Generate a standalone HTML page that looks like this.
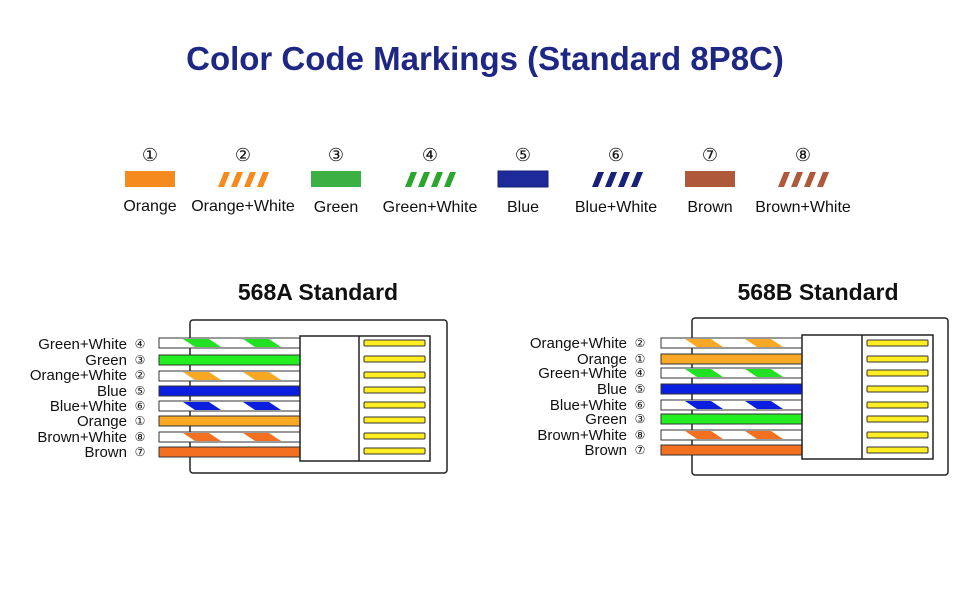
<!DOCTYPE html>
<html><head><meta charset="utf-8"><style>
html,body{margin:0;padding:0;background:#fff}
svg{display:block}
text{font-family:"Liberation Sans",Arial,sans-serif}
</style></head><body>
<svg width="970" height="600" viewBox="0 0 970 600" xmlns="http://www.w3.org/2000/svg">
<rect width="970" height="600" fill="#fff"/>
<text x="485" y="70" text-anchor="middle" font-size="33" font-weight="bold" fill="#1f2784">Color Code Markings (Standard 8P8C)</text>

<g font-size="18" text-anchor="middle" fill="#111">
<text x="150" y="161">①</text><text x="243" y="161">②</text><text x="336" y="161">③</text><text x="430" y="161">④</text>
<text x="523" y="161">⑤</text><text x="616" y="161">⑥</text><text x="710" y="161">⑦</text><text x="803" y="161">⑧</text>
</g>
<rect x="125" y="171" width="50" height="16" fill="#f58a1f"/>
<rect x="311" y="171" width="50" height="16" fill="#3cb043"/>
<rect x="498" y="171" width="50" height="16" fill="#1f2a9a" stroke="#16207a"/>
<rect x="685" y="171" width="50" height="16" fill="#b0583a"/>
<g fill="#f58a1f"><polygon points="224,172 230,172 224,187 218,187"/><polygon points="237,172 243,172 237,187 231,187"/><polygon points="250,172 256,172 250,187 244,187"/><polygon points="263,172 269,172 263,187 257,187"/></g>
<g fill="#2aa52e"><polygon points="411,172 417,172 411,187 405,187"/><polygon points="424,172 430,172 424,187 418,187"/><polygon points="437,172 443,172 437,187 431,187"/><polygon points="450,172 456,172 450,187 444,187"/></g>
<g fill="#18207a"><polygon points="598,172 604,172 598,187 592,187"/><polygon points="611,172 617,172 611,187 605,187"/><polygon points="624,172 630,172 624,187 618,187"/><polygon points="637,172 643,172 637,187 631,187"/></g>
<g fill="#b0583a"><polygon points="784,172 790,172 784,187 778,187"/><polygon points="797,172 803,172 797,187 791,187"/><polygon points="810,172 816,172 810,187 804,187"/><polygon points="823,172 829,172 823,187 817,187"/></g>
<g font-size="16" text-anchor="middle" fill="#111">
<text x="150" y="211">Orange</text><text x="243" y="211">Orange+White</text><text x="336" y="212">Green</text><text x="430" y="212">Green+White</text>
<text x="523" y="212">Blue</text><text x="616" y="212">Blue+White</text><text x="710" y="212">Brown</text><text x="803" y="212">Brown+White</text>
</g>

<text x="318" y="300" text-anchor="middle" font-size="23" font-weight="bold" fill="#111">568A Standard</text>
<text x="818" y="300" text-anchor="middle" font-size="23" font-weight="bold" fill="#111">568B Standard</text>

<!-- Left connector -->
<rect x="190" y="320" width="257" height="153" rx="3" fill="#fff" stroke="#222" stroke-width="1.5"/>
<g stroke="#333" stroke-width="1">
<rect x="159" y="338" width="141" height="10" fill="#fff"/>
<rect x="159" y="355" width="141" height="10" fill="#22ee22"/>
<rect x="159" y="371" width="141" height="10" fill="#fff"/>
<rect x="159" y="386" width="141" height="10" fill="#0a1ee0"/>
<rect x="159" y="401" width="141" height="10" fill="#fff"/>
<rect x="159" y="416" width="141" height="10" fill="#f9a825"/>
<rect x="159" y="432" width="141" height="10" fill="#fff"/>
<rect x="159" y="447" width="141" height="10" fill="#f37021"/>
</g>
<g fill="#22e022"><polygon points="183,339 209,339 221,347 195,347"/><polygon points="243,339 269,339 281,347 255,347"/></g>
<g fill="#f9a825"><polygon points="183,372 209,372 221,380 195,380"/><polygon points="243,372 269,372 281,380 255,380"/></g>
<g fill="#0a1ee0"><polygon points="183,402 209,402 221,410 195,410"/><polygon points="243,402 269,402 281,410 255,410"/></g>
<g fill="#f37021"><polygon points="183,433 209,433 221,441 195,441"/><polygon points="243,433 269,433 281,441 255,441"/></g>
<rect x="300" y="336" width="130" height="125" fill="#fff" stroke="#222" stroke-width="1.5"/>
<line x1="359" y1="336" x2="359" y2="461" stroke="#222" stroke-width="1.5"/>
<g fill="#ffee22" stroke="#333" stroke-width="1">
<rect x="364" y="340" width="61" height="6" rx="1"/><rect x="364" y="356" width="61" height="6" rx="1"/><rect x="364" y="372" width="61" height="6" rx="1"/><rect x="364" y="387" width="61" height="6" rx="1"/>
<rect x="364" y="402" width="61" height="6" rx="1"/><rect x="364" y="417" width="61" height="6" rx="1"/><rect x="364" y="433" width="61" height="6" rx="1"/><rect x="364" y="448" width="61" height="6" rx="1"/>
</g>
<g font-size="15" text-anchor="end" fill="#111">
<text x="127" y="349">Green+White</text><text x="127" y="365">Green</text><text x="127" y="380">Orange+White</text><text x="127" y="396">Blue</text>
<text x="127" y="411">Blue+White</text><text x="127" y="426">Orange</text><text x="127" y="442">Brown+White</text><text x="127" y="457">Brown</text>
</g>
<g font-size="12" text-anchor="middle" fill="#111">
<text x="140" y="348">④</text><text x="140" y="364">③</text><text x="140" y="379">②</text><text x="140" y="395">⑤</text>
<text x="140" y="410">⑥</text><text x="140" y="425">①</text><text x="140" y="441">⑧</text><text x="140" y="456">⑦</text>
</g>

<!-- Right connector -->
<rect x="692" y="318" width="256" height="157" rx="3" fill="#fff" stroke="#222" stroke-width="1.5"/>
<g stroke="#333" stroke-width="1">
<rect x="661" y="338" width="141" height="10" fill="#fff"/>
<rect x="661" y="354" width="141" height="10" fill="#f9a825"/>
<rect x="661" y="368" width="141" height="10" fill="#fff"/>
<rect x="661" y="384" width="141" height="10" fill="#0a1ee0"/>
<rect x="661" y="400" width="141" height="10" fill="#fff"/>
<rect x="661" y="414" width="141" height="10" fill="#22ee22"/>
<rect x="661" y="430" width="141" height="10" fill="#fff"/>
<rect x="661" y="445" width="141" height="10" fill="#f37021"/>
</g>
<g fill="#f9a825"><polygon points="685,339 711,339 723,347 697,347"/><polygon points="745,339 771,339 783,347 757,347"/></g>
<g fill="#22e022"><polygon points="685,369 711,369 723,377 697,377"/><polygon points="745,369 771,369 783,377 757,377"/></g>
<g fill="#0a1ee0"><polygon points="685,401 711,401 723,409 697,409"/><polygon points="745,401 771,401 783,409 757,409"/></g>
<g fill="#f37021"><polygon points="685,431 711,431 723,439 697,439"/><polygon points="745,431 771,431 783,439 757,439"/></g>
<rect x="802" y="335" width="131" height="124" fill="#fff" stroke="#222" stroke-width="1.5"/>
<line x1="862" y1="335" x2="862" y2="459" stroke="#222" stroke-width="1.5"/>
<g fill="#ffee22" stroke="#333" stroke-width="1">
<rect x="867" y="340" width="61" height="6" rx="1"/><rect x="867" y="356" width="61" height="6" rx="1"/><rect x="867" y="370" width="61" height="6" rx="1"/><rect x="867" y="386" width="61" height="6" rx="1"/>
<rect x="867" y="402" width="61" height="6" rx="1"/><rect x="867" y="416" width="61" height="6" rx="1"/><rect x="867" y="432" width="61" height="6" rx="1"/><rect x="867" y="447" width="61" height="6" rx="1"/>
</g>
<g font-size="15" text-anchor="end" fill="#111">
<text x="627" y="348">Orange+White</text><text x="627" y="364">Orange</text><text x="627" y="378">Green+White</text><text x="627" y="394">Blue</text>
<text x="627" y="410">Blue+White</text><text x="627" y="424">Green</text><text x="627" y="440">Brown+White</text><text x="627" y="455">Brown</text>
</g>
<g font-size="12" text-anchor="middle" fill="#111">
<text x="640" y="347">②</text><text x="640" y="363">①</text><text x="640" y="377">④</text><text x="640" y="393">⑤</text>
<text x="640" y="409">⑥</text><text x="640" y="423">③</text><text x="640" y="439">⑧</text><text x="640" y="454">⑦</text>
</g>
</svg>
</body></html>
